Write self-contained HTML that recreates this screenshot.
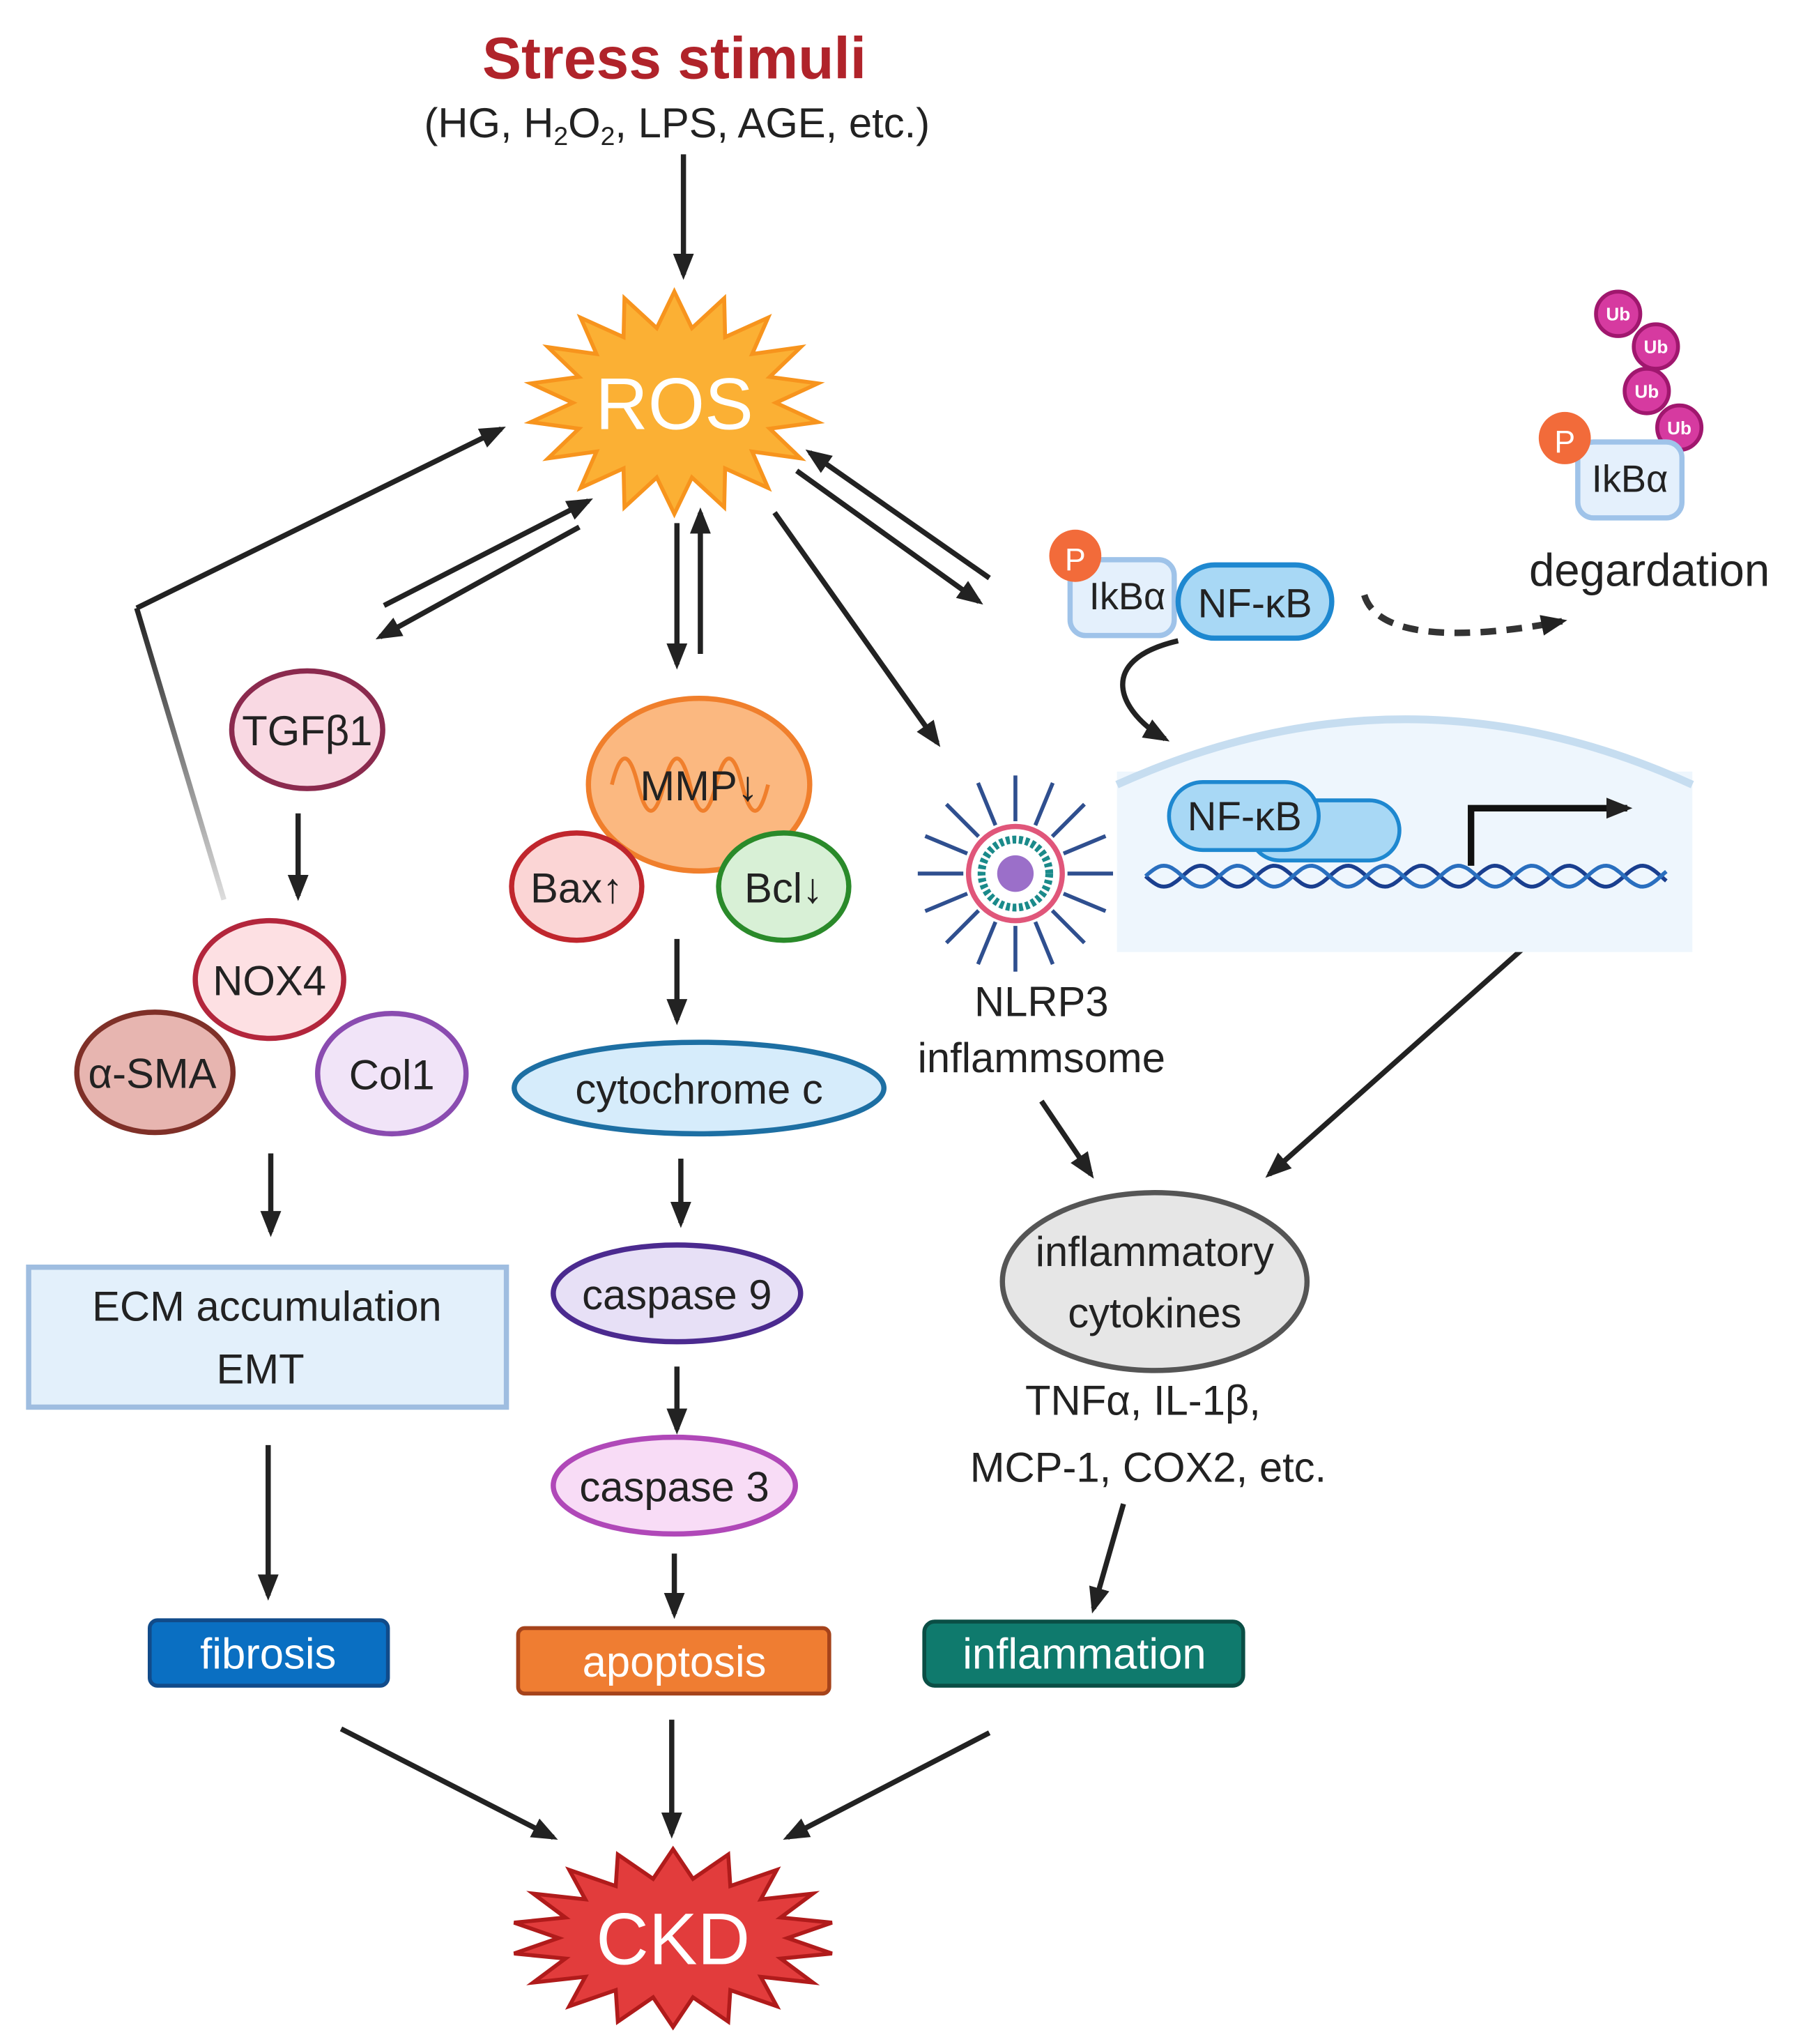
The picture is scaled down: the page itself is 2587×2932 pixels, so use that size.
<!DOCTYPE html>
<html><head><meta charset="utf-8"><style>
html,body{margin:0;padding:0;background:#fff}
svg{display:block}
text{font-family:"Liberation Sans",sans-serif}
</style></head><body>
<svg id="s" width="2587" height="2932" viewBox="0 0 1385 1563" preserveAspectRatio="none">
<defs>
<marker id="a" markerWidth="20" markerHeight="20" refX="16" refY="10" orient="auto" markerUnits="userSpaceOnUse" viewBox="0 0 20 20"><path d="M0,2 L20,10 L0,18 z" fill="#222"/></marker>
<linearGradient id="gl" x1="0" y1="0" x2="0" y2="1"><stop offset="0" stop-color="#222"/><stop offset="1" stop-color="#ddd"/></linearGradient>
</defs>
<text x="518" y="60" font-size="45" font-weight="bold" fill="#b0232a" text-anchor="middle">Stress stimuli</text>
<text x="520" y="105" font-size="32" fill="#222" text-anchor="middle">(HG, H<tspan font-size="20" dy="6">2</tspan><tspan dy="-6">O</tspan><tspan font-size="20" dy="6">2</tspan><tspan dy="-6">, LPS, AGE, etc.)</tspan></text>

<g stroke="#222" stroke-width="4" fill="none" marker-end="url(#a)">
<line x1="525" y1="118" x2="525" y2="210"/>
<line x1="105" y1="465" x2="385" y2="328"/>
<line x1="295" y1="463" x2="452" y2="383"/>
<line x1="445" y1="403" x2="292" y2="487"/>
<line x1="520" y1="400" x2="520" y2="508"/>
<line x1="538" y1="500" x2="538" y2="392"/>
<line x1="595" y1="392" x2="720" y2="568"/>
<line x1="612" y1="360" x2="752" y2="460"/>
<line x1="760" y1="442" x2="622" y2="346"/>
<line x1="229" y1="622" x2="229" y2="685"/>
<line x1="208" y1="882" x2="208" y2="942"/>
<line x1="206" y1="1105" x2="206" y2="1220"/>
<line x1="520" y1="718" x2="520" y2="780"/>
<line x1="523" y1="886" x2="523" y2="935"/>
<line x1="520" y1="1045" x2="520" y2="1093"/>
<line x1="518" y1="1188" x2="518" y2="1234"/>
<line x1="516" y1="1315" x2="516" y2="1402"/>
<line x1="800" y1="842" x2="838" y2="898"/>
<line x1="1185" y1="712" x2="975" y2="898"/>
<line x1="863" y1="1150" x2="840" y2="1230"/>
<line x1="262" y1="1322" x2="425" y2="1405"/>
<line x1="760" y1="1325" x2="605" y2="1405"/>
<path d="M905,490 C840,505 860,545 895,565"/>
</g>
<line x1="105" y1="465" x2="172" y2="688" stroke="url(#gl)" stroke-width="4"/>
<path d="M1048,455 C1060,495 1150,485 1200,475" stroke="#333" stroke-width="5" stroke-dasharray="12,8" fill="none" marker-end="url(#a)"/>

<polygon id="ros" fill="#fbb034" stroke="#f7941d" stroke-width="3"/>
<text x="518" y="328" font-size="56" fill="#fff" text-anchor="middle">ROS</text>

<ellipse cx="236" cy="558" rx="58" ry="45" fill="#f9d9e3" stroke="#8b2a4e" stroke-width="4"/>
<text x="236" y="570" font-size="32" text-anchor="middle" fill="#222">TGFβ1</text>
<ellipse cx="207" cy="749" rx="57" ry="45" fill="#fde0e3" stroke="#b3263c" stroke-width="4"/>
<text x="207" y="761" font-size="32" text-anchor="middle" fill="#222">NOX4</text>
<ellipse cx="119" cy="820" rx="60" ry="46" fill="#e7b5b0" stroke="#7f3028" stroke-width="4"/>
<text x="117" y="832" font-size="32" text-anchor="middle" fill="#222">α-SMA</text>
<ellipse cx="301" cy="821" rx="57" ry="46" fill="#f1e4f8" stroke="#8a4bb0" stroke-width="4"/>
<text x="301" y="833" font-size="32" text-anchor="middle" fill="#222">Col1</text>
<rect x="22" y="969" width="367" height="107" fill="#e3f0fb" stroke="#9fbde0" stroke-width="4"/>
<text x="205" y="1010" font-size="32" text-anchor="middle" fill="#222">ECM accumulation</text>
<text x="200" y="1058" font-size="32" text-anchor="middle" fill="#222">EMT</text>
<rect x="115" y="1239" width="183" height="50" rx="6" fill="#0a6fc2" stroke="#114b8a" stroke-width="3"/>
<text x="206" y="1276" font-size="33" text-anchor="middle" fill="#fff">fibrosis</text>

<ellipse cx="537" cy="600" rx="85" ry="66" fill="#fbb880" stroke="#f07f2c" stroke-width="4"/>
<path d="M470,600 q10,-40 20,0 q10,40 20,0 q10,-40 20,0 q10,40 20,0 q10,-40 20,0 q10,40 20,0" stroke="#f07f2c" stroke-width="3" fill="none"/>
<text x="537" y="612" font-size="32" text-anchor="middle" fill="#222">MMP↓</text>
<ellipse cx="443" cy="678" rx="50" ry="41" fill="#fbd5d5" stroke="#c0262d" stroke-width="4"/>
<text x="443" y="690" font-size="32" text-anchor="middle" fill="#222">Bax↑</text>
<ellipse cx="602" cy="678" rx="50" ry="41" fill="#d8f0d6" stroke="#2a8a2a" stroke-width="4"/>
<text x="602" y="690" font-size="32" text-anchor="middle" fill="#222">Bcl↓</text>
<ellipse cx="537" cy="832" rx="142" ry="35" fill="#d6ecfb" stroke="#1d6fa3" stroke-width="4"/>
<text x="537" y="844" font-size="32" text-anchor="middle" fill="#222">cytochrome c</text>
<ellipse cx="520" cy="989" rx="95" ry="37" fill="#e7e0f6" stroke="#4b2a8f" stroke-width="4"/>
<text x="520" y="1001" font-size="32" text-anchor="middle" fill="#222">caspase 9</text>
<ellipse cx="518" cy="1136" rx="93" ry="37" fill="#f8dcf6" stroke="#b048b8" stroke-width="4"/>
<text x="518" y="1148" font-size="32" text-anchor="middle" fill="#222">caspase 3</text>
<rect x="398" y="1245" width="239" height="50" rx="5" fill="#ef7d32" stroke="#a5431b" stroke-width="3"/>
<text x="518" y="1282" font-size="33" text-anchor="middle" fill="#fff">apoptosis</text>

<g id="infl" stroke="#2f4f8f" stroke-width="3"></g>
<circle cx="780" cy="668" r="36" fill="#fff" stroke="#e0567a" stroke-width="4"/>
<circle cx="780" cy="668" r="26" fill="none" stroke="#1a8a8a" stroke-width="6" stroke-dasharray="3,2"/>
<circle cx="780" cy="668" r="14" fill="#9b6fc9"/>
<text x="800" y="777" font-size="32" text-anchor="middle" fill="#222">NLRP3</text>
<text x="800" y="820" font-size="32" text-anchor="middle" fill="#222">inflammsome</text>

<rect x="822" y="428" width="80" height="58" rx="12" fill="#e4f0fc" stroke="#9fc3e9" stroke-width="4"/>
<circle cx="826" cy="425" r="20" fill="#f26b3a"/>
<text x="826" y="436" font-size="24" text-anchor="middle" fill="#fff">P</text>
<text x="866" y="466" font-size="29" text-anchor="middle" fill="#222">IkBα</text>
<rect x="905" y="432" width="118" height="56" rx="28" fill="#a8d8f5" stroke="#1e88d0" stroke-width="4"/>
<text x="964" y="472" font-size="31" text-anchor="middle" fill="#222">NF-κB</text>

<rect x="858" y="590" width="442" height="138" fill="#eef6fd"/>
<path d="M858,600 Q1080,500 1300,600 Z" fill="#eef6fd"/>
<path d="M858,600 Q1080,500 1300,600" fill="none" stroke="#c6ddf0" stroke-width="6"/>
<rect x="960" y="612" width="115" height="46" rx="23" fill="#a8d8f5" stroke="#1e88d0" stroke-width="3"/>
<rect x="898" y="598" width="115" height="52" rx="26" fill="#a8d8f5" stroke="#1e88d0" stroke-width="3"/>
<text x="956" y="635" font-size="31" text-anchor="middle" fill="#222">NF-κB</text>
<path id="dna1" fill="none" stroke="#1a3f8f" stroke-width="3"/>
<path id="dna2" fill="none" stroke="#2a6fbf" stroke-width="3"/>
<path d="M1130,662 L1130,618 L1250,618" fill="none" stroke="#111" stroke-width="5" marker-end="url(#a)"/>

<ellipse cx="887" cy="980" rx="117" ry="68" fill="#e6e6e6" stroke="#555" stroke-width="4"/>
<text x="887" y="968" font-size="32" text-anchor="middle" fill="#222">inflammatory</text>
<text x="887" y="1015" font-size="32" text-anchor="middle" fill="#222">cytokines</text>
<text x="878" y="1082" font-size="32" text-anchor="middle" fill="#222">TNFα, IL-1β,</text>
<text x="882" y="1133" font-size="32" text-anchor="middle" fill="#222">MCP-1, COX2, etc.</text>
<rect x="710" y="1240" width="245" height="49" rx="8" fill="#0f7a6d" stroke="#0a4e45" stroke-width="3"/>
<text x="833" y="1276" font-size="33" text-anchor="middle" fill="#fff">inflammation</text>

<polygon id="ckd" fill="#e23c3c" stroke="#b01b1b" stroke-width="3"/>
<text x="517" y="1502" font-size="56" fill="#fff" text-anchor="middle">CKD</text>

<g stroke="#a0176e" stroke-width="3" fill="#d63aa0">
<circle cx="1243" cy="240" r="17"/><circle cx="1272" cy="265" r="17"/><circle cx="1265" cy="299" r="17"/><circle cx="1290" cy="327" r="17"/>
</g>
<g font-size="14" fill="#fff" text-anchor="middle" font-weight="bold">
<text x="1243" y="245">Ub</text><text x="1272" y="270">Ub</text><text x="1265" y="304">Ub</text><text x="1290" y="332">Ub</text></g>
<rect x="1212" y="338" width="80" height="58" rx="12" fill="#e4f0fc" stroke="#9fc3e9" stroke-width="4"/>
<circle cx="1202" cy="335" r="20" fill="#f26b3a"/>
<text x="1202" y="346" font-size="24" text-anchor="middle" fill="#fff">P</text>
<text x="1252" y="376" font-size="29" text-anchor="middle" fill="#222">IkBα</text>
<text x="1267" y="448" font-size="35" text-anchor="middle" fill="#222">degardation</text>
</svg>
<script>
function star(id,cx,cy,ro,ri,ryo,ryi,n){var p=[];for(var i=0;i<2*n;i++){var a=Math.PI*i/n-Math.PI/2;var o=i%2==0;p.push((cx+(o?ro:ri)*Math.cos(a)).toFixed(1)+','+(cy+(o?ryo:ryi)*Math.sin(a)).toFixed(1));}document.getElementById(id).setAttribute('points',p.join(' '));}
star('ros',518,308,112,78,85,58,18);
star('ckd',517,1482,124,88,68,46,18);
var d1='',d2='';for(var x=880;x<=1280;x+=2){var y1=670+8*Math.sin((x-880)/9),y2=670-8*Math.sin((x-880)/9);d1+=(x==880?'M':'L')+x+','+y1.toFixed(1);d2+=(x==880?'M':'L')+x+','+y2.toFixed(1);}
document.getElementById('dna1').setAttribute('d',d1);document.getElementById('dna2').setAttribute('d',d2);
var g=document.getElementById('infl'),s='';for(var i=0;i<16;i++){var a=i*Math.PI/8;s+='<line x1="'+(780+40*Math.cos(a))+'" y1="'+(668+40*Math.sin(a))+'" x2="'+(780+75*Math.cos(a))+'" y2="'+(668+75*Math.sin(a))+'"/>';}g.innerHTML=s;
</script>
</body></html>
